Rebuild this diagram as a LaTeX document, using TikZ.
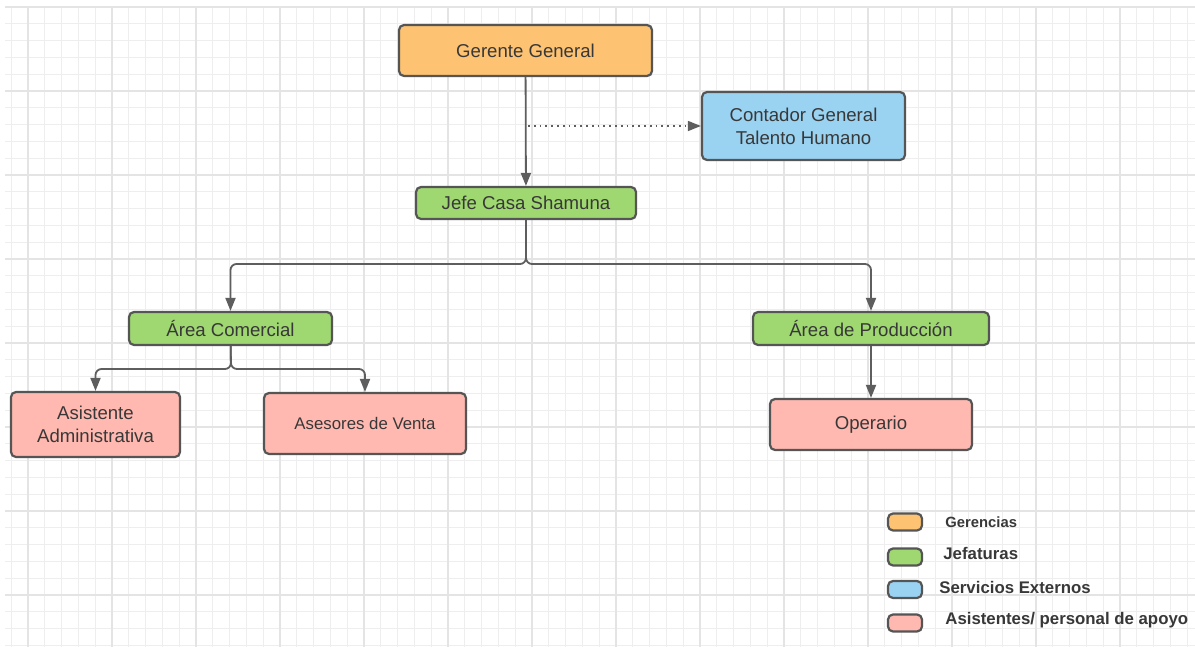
\documentclass[tikz,border=0pt]{standalone}
\usepackage{fontspec}
\setmainfont{Liberation Sans}
\usetikzlibrary{arrows.meta}
\definecolor{gerenciaorange}{HTML}{FDC272}
\definecolor{jefaturagreen}{HTML}{9FD771}
\definecolor{externoblue}{HTML}{9AD2F2}
\definecolor{apoyopink}{HTML}{FFB9B0}
\definecolor{boxedge}{HTML}{555555}
\definecolor{linegray}{HTML}{5E5E5E}
\definecolor{txtgray}{HTML}{383838}
\definecolor{gridminor}{HTML}{EEEEEE}
\definecolor{gridmajor}{HTML}{E4E4E4}

\begin{document}
\begin{tikzpicture}[x=0.5pt,y=-0.5pt,
    box/.style={draw=boxedge, line width=1.1pt, rounded corners=2.5pt, text=txtgray,
      font=\fontsize{9.3}{11.5}\selectfont, align=center, inner sep=0pt},
    conn/.style={draw=linegray, line width=0.9pt, rounded corners=3pt,
      -{Triangle[length=6.5pt,width=5pt]}},
    legendbox/.style={draw=boxedge, line width=1.1pt, rounded corners=2.5pt,
      minimum width=17pt, minimum height=8.5pt, inner sep=0pt},
    legendtext/.style={text=txtgray, font=\bfseries\fontsize{8.4}{10}\selectfont,
      anchor=west, inner sep=0pt}]
  \useasboundingbox (0,0) rectangle (1195,647);
  \fill[white] (0,0) rectangle (1195,647);

  % background grid
  \foreach \gx in {0,...,70}
    \draw[gridminor, line width=0.5pt] ({11.2+16.8*\gx},7) -- ({11.2+16.8*\gx},647);
  \foreach \gy in {0,...,38}
    \draw[gridminor, line width=0.5pt] (5,{7+16.8*\gy}) -- (1195,{7+16.8*\gy});
  \foreach \gx in {0,...,13}
    \draw[gridmajor, line width=0.6pt] ({28+84*\gx},7) -- ({28+84*\gx},647);
  \foreach \gy in {0,...,7}
    \draw[gridmajor, line width=0.6pt] (5,{7+84*\gy}) -- (1195,{7+84*\gy});

  % organigrama
  \node[box, fill=gerenciaorange, minimum width=126.5pt, minimum height=25.5pt] (gerente) at (525.5,50.5) {Gerente General};
  \node[box, fill=externoblue, minimum width=101.5pt, minimum height=34pt] (contador) at (803.5,126) {Contador General\\Talento Humano};
  \node[box, fill=jefaturagreen, minimum width=110pt, minimum height=16pt] (jefe) at (526,203) {Jefe Casa Shamuna};
  \node[box, fill=jefaturagreen, minimum width=101.5pt, minimum height=16.5pt] (comercial) at (230.5,328.5) {Área Comercial};
  \node[box, fill=jefaturagreen, minimum width=118pt, minimum height=16.5pt] (produccion) at (871,328.5) {Área de Producción};
  \node[box, fill=apoyopink, minimum width=84.5pt, minimum height=32.5pt] (asistente) at (95.5,424.5) {Asistente\\Administrativa};
  \node[box, fill=apoyopink, minimum width=101pt, minimum height=30.5pt,
    font=\fontsize{8.4}{10}\selectfont] (asesores) at (365,423.5) {Asesores de Venta};
  \node[box, fill=apoyopink, minimum width=101pt, minimum height=25.5pt] (operario) at (871,424.5) {Operario};

  % uniones
  \coordinate (dotstart) at (528,126);
  \coordinate (jefejoin) at (526,264);
  \coordinate (comercialjoin) at (231,369);

  \draw[conn] (gerente) -- (jefe);
  \draw[conn, rounded corners=0pt, dotted, line width=0.7pt] (dotstart) -- (contador);
  \draw[conn] (jefe) -- (jefejoin) -| (comercial);
  \draw[conn] (jefe) -- (jefejoin) -| (produccion);
  \draw[conn] (comercial) -- (comercialjoin) -| (asistente);
  \draw[conn] (comercial) -- (comercialjoin) -| (asesores);
  \draw[conn] (produccion) -- (operario);

  % leyenda
  \node[legendbox, fill=gerenciaorange] (leygerencia) at (905,522) {};
  \node[legendbox, fill=jefaturagreen] (leyjefatura) at (905,557) {};
  \node[legendbox, fill=externoblue] (leyexterno) at (905,589.5) {};
  \node[legendbox, fill=apoyopink] (leyapoyo) at (905,623) {};
  \node[legendtext, font=\bfseries\fontsize{7.4}{9}\selectfont] (txtgerencia) at (945,522) {Gerencias};
  \node[legendtext] (txtjefatura) at (943,553) {Jefaturas};
  \node[legendtext] (txtexterno) at (939,587) {Servicios Externos};
  \node[legendtext] (txtapoyo) at (945,620) {Asistentes/ personal de apoyo};
\end{tikzpicture}
\end{document}
